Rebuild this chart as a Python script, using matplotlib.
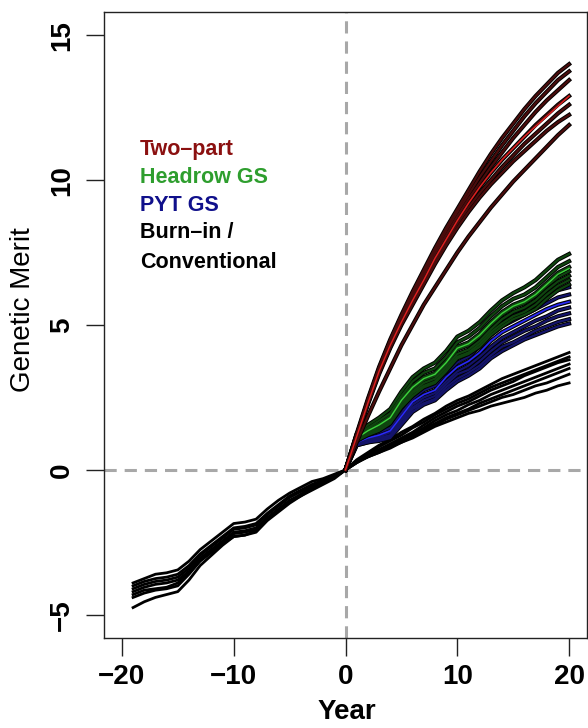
import numpy as np
import matplotlib
matplotlib.use("Agg")
import matplotlib.pyplot as plt

plt.rcParams['font.family'] = ['Liberation Sans', 'DejaVu Sans']

# years
burnin_years = list(range(-19, 1))
future_years = list(range(0, 21))

# burn-in replicates (year -19 .. 0)
burnin_reps = [
    [-3.9, -3.75, -3.6, -3.55, -3.45, -3.15, -2.75, -2.45, -2.15, -1.85, -1.8, -1.7, -1.35, -1.05, -0.8, -0.6, -0.4, -0.3, -0.15, 0],
    [-4.0, -3.85, -3.75, -3.7, -3.6, -3.3, -2.9, -2.6, -2.3, -2.0, -1.95, -1.85, -1.5, -1.2, -0.9, -0.7, -0.5, -0.35, -0.2, 0],
    [-4.1, -3.95, -3.85, -3.8, -3.7, -3.4, -2.95, -2.65, -2.35, -2.05, -2.0, -1.9, -1.55, -1.25, -0.95, -0.75, -0.55, -0.4, -0.2, 0],
    [-4.2, -4.05, -3.95, -3.9, -3.8, -3.5, -3.05, -2.75, -2.45, -2.15, -2.1, -2.0, -1.65, -1.35, -1.05, -0.85, -0.6, -0.45, -0.25, 0],
    [-4.3, -4.15, -4.1, -4.05, -3.9, -3.55, -3.1, -2.8, -2.5, -2.2, -2.15, -2.05, -1.7, -1.4, -1.1, -0.9, -0.65, -0.45, -0.25, 0],
    [-4.4, -4.25, -4.15, -4.1, -4.0, -3.6, -3.15, -2.85, -2.55, -2.3, -2.25, -2.15, -1.75, -1.45, -1.15, -0.9, -0.7, -0.5, -0.3, 0],
    [-4.75, -4.55, -4.4, -4.3, -4.2, -3.8, -3.3, -2.95, -2.6, -2.3, -2.25, -2.1, -1.7, -1.4, -1.1, -0.85, -0.6, -0.45, -0.25, 0],
]

# conventional replicates (year 0 .. 20)
conv_reps = [
    [0, 0.35, 0.6, 0.85, 1.05, 1.3, 1.5, 1.75, 1.95, 2.2, 2.4, 2.55, 2.75, 2.95, 3.15, 3.3, 3.45, 3.6, 3.75, 3.9, 4.05],
    [0, 0.3, 0.55, 0.8, 1.0, 1.2, 1.45, 1.65, 1.9, 2.1, 2.3, 2.45, 2.65, 2.85, 3.0, 3.15, 3.3, 3.45, 3.6, 3.75, 3.9],
    [0, 0.3, 0.5, 0.7, 0.9, 1.1, 1.3, 1.55, 1.8, 2.0, 2.2, 2.35, 2.55, 2.75, 2.9, 3.05, 3.25, 3.4, 3.55, 3.7, 3.8],
    [0, 0.25, 0.5, 0.7, 0.85, 1.05, 1.25, 1.45, 1.7, 1.9, 2.05, 2.25, 2.4, 2.6, 2.75, 2.9, 3.05, 3.2, 3.35, 3.5, 3.65],
    [0, 0.3, 0.45, 0.65, 0.85, 1.0, 1.2, 1.4, 1.6, 1.8, 1.95, 2.1, 2.3, 2.45, 2.6, 2.75, 2.9, 3.05, 3.2, 3.35, 3.5],
    [0, 0.25, 0.45, 0.6, 0.8, 0.95, 1.15, 1.35, 1.55, 1.75, 1.9, 2.05, 2.2, 2.35, 2.5, 2.6, 2.75, 2.9, 3.0, 3.15, 3.3],
    [0, 0.25, 0.45, 0.6, 0.75, 0.95, 1.1, 1.3, 1.5, 1.65, 1.8, 1.95, 2.05, 2.2, 2.3, 2.4, 2.5, 2.65, 2.75, 2.9, 3.0],
]

# PYT GS replicates
pyt_reps = [
    [0, 1.05, 1.25, 1.4, 1.6, 2.1, 2.6, 2.9, 3.05, 3.5, 3.9, 4.1, 4.45, 4.85, 5.15, 5.4, 5.6, 5.8, 6.0, 6.2, 6.3],
    [0, 1.0, 1.2, 1.3, 1.45, 1.95, 2.45, 2.75, 2.9, 3.35, 3.7, 3.9, 4.25, 4.65, 4.95, 5.15, 5.35, 5.55, 5.75, 5.95, 6.05],
    [0, 0.95, 1.1, 1.2, 1.35, 1.85, 2.35, 2.6, 2.75, 3.2, 3.55, 3.75, 4.05, 4.45, 4.75, 4.95, 5.15, 5.35, 5.55, 5.7, 5.8],
    [0, 0.9, 1.05, 1.15, 1.3, 1.75, 2.25, 2.5, 2.65, 3.05, 3.4, 3.6, 3.9, 4.25, 4.55, 4.75, 4.95, 5.15, 5.3, 5.5, 5.6],
    [0, 0.9, 1.0, 1.1, 1.2, 1.7, 2.15, 2.4, 2.55, 2.95, 3.3, 3.45, 3.75, 4.1, 4.4, 4.6, 4.8, 4.95, 5.15, 5.3, 5.4],
    [0, 0.85, 0.95, 1.05, 1.15, 1.6, 2.1, 2.3, 2.45, 2.85, 3.15, 3.35, 3.6, 3.95, 4.25, 4.4, 4.6, 4.8, 4.95, 5.1, 5.2],
    [0, 0.85, 0.95, 1.0, 1.1, 1.55, 2.0, 2.25, 2.4, 2.75, 3.05, 3.25, 3.5, 3.85, 4.1, 4.3, 4.5, 4.65, 4.8, 4.95, 5.05],
]
pyt_mean = [0, 0.95, 1.1, 1.2, 1.35, 1.85, 2.35, 2.6, 2.75, 3.2, 3.55, 3.75, 4.05, 4.45, 4.75, 4.95, 5.15, 5.35, 5.55, 5.7, 5.8]

# Headrow GS replicates
headrow_reps = [
    [0, 1.25, 1.55, 1.8, 2.1, 2.7, 3.2, 3.5, 3.7, 4.1, 4.6, 4.8, 5.1, 5.5, 5.85, 6.1, 6.3, 6.55, 6.9, 7.25, 7.45],
    [0, 1.2, 1.45, 1.7, 1.95, 2.55, 3.05, 3.35, 3.5, 3.9, 4.4, 4.6, 4.9, 5.3, 5.65, 5.9, 6.05, 6.3, 6.65, 7.0, 7.2],
    [0, 1.1, 1.4, 1.6, 1.85, 2.45, 2.9, 3.2, 3.35, 3.75, 4.25, 4.4, 4.7, 5.1, 5.45, 5.7, 5.85, 6.1, 6.45, 6.8, 7.0],
    [0, 1.1, 1.35, 1.5, 1.75, 2.35, 2.8, 3.1, 3.25, 3.65, 4.15, 4.3, 4.6, 5.0, 5.35, 5.6, 5.75, 6.0, 6.35, 6.65, 6.85],
    [0, 1.05, 1.3, 1.45, 1.7, 2.3, 2.7, 3.0, 3.15, 3.55, 4.0, 4.15, 4.45, 4.85, 5.2, 5.45, 5.6, 5.85, 6.2, 6.5, 6.7],
    [0, 1.0, 1.25, 1.4, 1.65, 2.2, 2.65, 2.9, 3.05, 3.45, 3.9, 4.05, 4.35, 4.75, 5.05, 5.3, 5.45, 5.7, 6.05, 6.35, 6.55],
    [0, 1.0, 1.2, 1.35, 1.6, 2.15, 2.55, 2.85, 3.0, 3.4, 3.85, 4.0, 4.25, 4.65, 4.95, 5.2, 5.35, 5.55, 5.9, 6.2, 6.4],
]
headrow_mean = [0, 1.1, 1.35, 1.55, 1.8, 2.4, 2.85, 3.15, 3.3, 3.7, 4.2, 4.35, 4.65, 5.05, 5.4, 5.65, 5.8, 6.05, 6.4, 6.75, 6.95]

# Two-part replicates
twopart_reps = [
    [0, 1.25, 2.45, 3.55, 4.5, 5.35, 6.15, 6.9, 7.65, 8.35, 9.0, 9.65, 10.3, 10.9, 11.45, 11.95, 12.45, 12.9, 13.3, 13.7, 14.0],
    [0, 1.2, 2.4, 3.5, 4.45, 5.3, 6.05, 6.8, 7.55, 8.25, 8.9, 9.5, 10.1, 10.65, 11.2, 11.7, 12.2, 12.65, 13.05, 13.45, 13.75],
    [0, 1.2, 2.35, 3.45, 4.4, 5.2, 5.95, 6.7, 7.45, 8.1, 8.75, 9.35, 9.9, 10.45, 10.95, 11.45, 11.9, 12.35, 12.75, 13.1, 13.45],
    [0, 1.15, 2.3, 3.4, 4.3, 5.1, 5.85, 6.55, 7.3, 7.95, 8.6, 9.2, 9.75, 10.25, 10.7, 11.1, 11.5, 11.9, 12.25, 12.6, 12.9],
    [0, 1.15, 2.3, 3.35, 4.25, 5.05, 5.8, 6.5, 7.2, 7.85, 8.5, 9.05, 9.55, 10.0, 10.45, 10.85, 11.25, 11.6, 11.95, 12.3, 12.6],
    [0, 1.1, 2.25, 3.3, 4.2, 5.0, 5.7, 6.4, 7.1, 7.75, 8.35, 8.9, 9.4, 9.85, 10.25, 10.65, 11.0, 11.35, 11.7, 12.0, 12.25],
    [0, 0.95, 1.85, 2.7, 3.5, 4.3, 5.0, 5.7, 6.3, 6.9, 7.5, 8.05, 8.55, 9.05, 9.5, 9.95, 10.35, 10.75, 11.15, 11.55, 11.9],
]
twopart_mean = [0, 1.15, 2.3, 3.4, 4.3, 5.1, 5.85, 6.55, 7.3, 7.95, 8.6, 9.2, 9.75, 10.25, 10.7, 11.1, 11.5, 11.85, 12.2, 12.55, 12.9]

legend_labels = ["Two\u2013part", "Headrow GS", "PYT GS", "Burn\u2013in /", "Conventional"]
legend_colors = ["#8b1010", "#2e9e2e", "#10108b", "black", "black"]

fig = plt.figure(figsize=(5.88, 7.28), dpi=100)
ax = fig.add_axes([104 / 588, 1 - 638 / 728, 483 / 588, 626 / 728])

# reference lines
ax.axvline(0, color="#a8a8a8", lw=2.2, dashes=(4, 2.6), zorder=1)
ax.axhline(0, color="#a8a8a8", lw=2.2, dashes=(4, 2.6), zorder=1)

for r in burnin_reps:
    ax.plot(burnin_years, r, color="black", lw=2.0, zorder=2)
for r in conv_reps:
    ax.plot(future_years, r, color="black", lw=2.0, zorder=2)

def band(reps, mean, inner, bright, z):
    for r in reps:
        ax.plot(future_years, r, color="black", lw=3.0, zorder=z)
        ax.plot(future_years, r, color=inner, lw=1.6, zorder=z + 0.1)
    ax.plot(future_years, mean, color=bright, lw=1.0, zorder=z + 0.2)

band(pyt_reps, pyt_mean, "#14146a", "#2a2aff", 3)
band(headrow_reps, headrow_mean, "#0f440f", "#3cd43c", 4)
band(twopart_reps, twopart_mean, "#4a0c0c", "#e02020", 5)

# legend text
leg_y = [11.07, 10.1, 9.14, 8.2, 7.17]
for lab, col, yy in zip(legend_labels, legend_colors, leg_y):
    ax.text(-18.4, yy, lab, color=col, fontsize=15.5, fontweight="bold",
            ha="left", va="center")

ax.set_xlim(-21.6, 21.6)
ax.set_ylim(-5.8, 15.8)
ax.set_xticks([-20, -10, 0, 10, 20])
ax.set_yticks([-5, 0, 5, 10, 15])
ax.set_xticklabels(["\u221220", "\u221210", "0", "10", "20"], fontsize=20, fontweight="bold")
ax.set_yticklabels(["\u22125", "0", "5", "10", "15"], fontsize=20, fontweight="bold",
                   rotation=90, va="center")
ax.tick_params(axis="both", direction="out", length=13, width=1.0, color="#222222")
ax.tick_params(axis="x", pad=6)
ax.tick_params(axis="y", pad=8)
for s in ax.spines.values():
    s.set_linewidth(1.0)
    s.set_color("#222222")

fig.text(23 / 588, 1 - 310 / 728, "Genetic Merit", rotation=90, fontsize=20,
         ha="center", va="center")
fig.text(347 / 588, 1 - 712 / 728, "Year", fontsize=20, fontweight="bold",
         ha="center", va="center")

fig.savefig("out.png", dpi=100)
